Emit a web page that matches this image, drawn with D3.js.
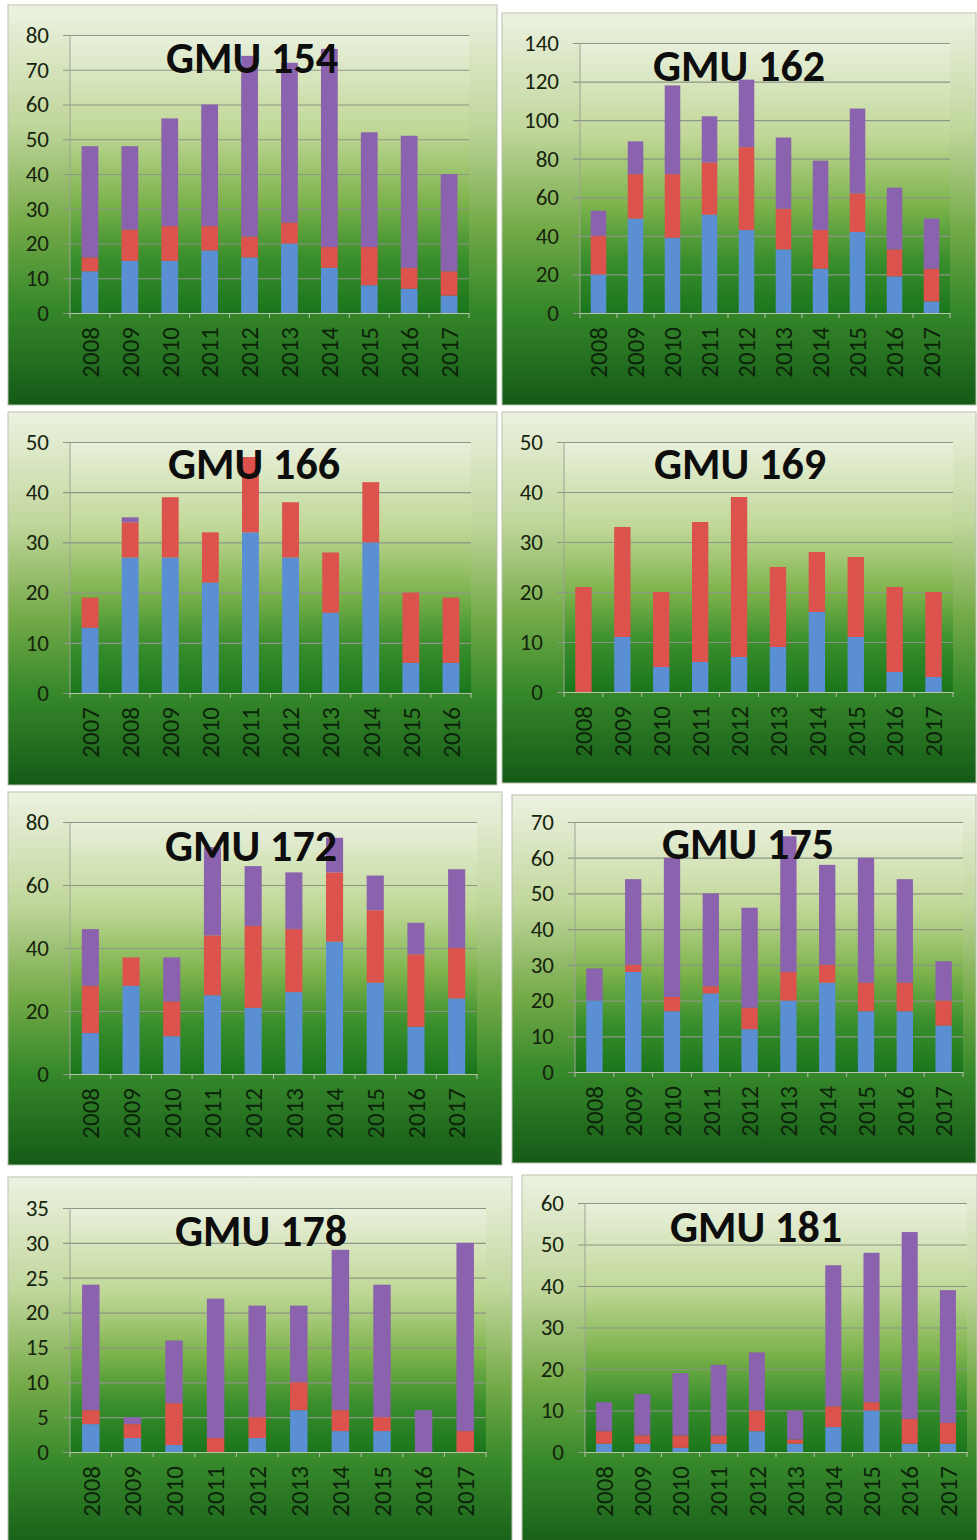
<!DOCTYPE html>
<html>
<head>
<meta charset="utf-8">
<script src="https://cdn.jsdelivr.net/npm/d3@7"></script>
<style>
  body { margin: 0; background: #fff; }
  svg { display: block; }
  .ytick text { font-family: Carlito, Lato, "Open Sans", sans-serif; font-size: 23px; fill: #16240e; }
  .xlab { font-family: Carlito, Lato, "Open Sans", sans-serif; font-size: 25px; fill: #0c240a; }
  .title { font-family: Carlito, Lato, "Open Sans", sans-serif; font-size: 44px; font-weight: bold; fill: #0d0d0d; }
</style>
</head>
<body>
<svg id="chart"></svg>
<script>
// Years on the category axes
var years0817 = ["2008", "2009", "2010", "2011", "2012", "2013", "2014", "2015", "2016", "2017"];
var years0716 = ["2007", "2008", "2009", "2010", "2011", "2012", "2013", "2014", "2015", "2016"];

// GMU 154
var gmu154Blue = [12, 15, 15, 18, 16, 20, 13, 8, 7, 5];
var gmu154Red = [4, 9, 10, 7, 6, 6, 6, 11, 6, 7];
var gmu154Purple = [32, 24, 31, 35, 52, 46, 57, 33, 38, 28];

// GMU 162
var gmu162Blue = [20, 49, 39, 51, 43, 33, 23, 42, 19, 6];
var gmu162Red = [20, 23, 33, 27, 43, 21, 20, 20, 14, 17];
var gmu162Purple = [13, 17, 46, 24, 35, 37, 36, 44, 32, 26];

// GMU 166
var gmu166Blue = [13, 27, 27, 22, 32, 27, 16, 30, 6, 6];
var gmu166Red = [6, 7, 12, 10, 15, 11, 12, 12, 14, 13];
var gmu166Purple = [0, 1, 0, 0, 0, 0, 0, 0, 0, 0];

// GMU 169
var gmu169Blue = [0, 11, 5, 6, 7, 9, 16, 11, 4, 3];
var gmu169Red = [21, 22, 15, 28, 32, 16, 12, 16, 17, 17];
var gmu169Purple = [0, 0, 0, 0, 0, 0, 0, 0, 0, 0];

// GMU 172
var gmu172Blue = [13, 28, 12, 25, 21, 26, 42, 29, 15, 24];
var gmu172Red = [15, 9, 11, 19, 26, 20, 22, 23, 23, 16];
var gmu172Purple = [18, 0, 14, 28, 19, 18, 11, 11, 10, 25];

// GMU 175
var gmu175Blue = [20, 28, 17, 22, 12, 20, 25, 17, 17, 13];
var gmu175Red = [0, 2, 4, 2, 6, 8, 5, 8, 8, 7];
var gmu175Purple = [9, 24, 39, 26, 28, 38, 28, 35, 29, 11];

// GMU 178
var gmu178Blue = [4, 2, 1, 0, 2, 6, 3, 3, 0, 0];
var gmu178Red = [2, 2, 6, 2, 3, 4, 3, 2, 0, 3];
var gmu178Purple = [18, 1, 9, 20, 16, 11, 23, 19, 6, 27];

// GMU 181
var gmu181Blue = [2, 2, 1, 2, 5, 2, 6, 10, 2, 2];
var gmu181Red = [3, 2, 3, 2, 5, 1, 5, 2, 6, 5];
var gmu181Purple = [7, 10, 15, 17, 14, 7, 34, 36, 45, 32];

// Panel titles and y axis ranges
var titles = ["GMU 154", "GMU 162", "GMU 166", "GMU 169", "GMU 172", "GMU 175", "GMU 178", "GMU 181"];
var yMaxes = [80, 140, 50, 50, 80, 70, 35, 60];
var ySteps = [10, 20, 10, 10, 20, 10, 5, 10];

var panelsData = [
  { years: years0817, series: [gmu154Blue, gmu154Red, gmu154Purple] },
  { years: years0817, series: [gmu162Blue, gmu162Red, gmu162Purple] },
  { years: years0716, series: [gmu166Blue, gmu166Red, gmu166Purple] },
  { years: years0817, series: [gmu169Blue, gmu169Red, gmu169Purple] },
  { years: years0817, series: [gmu172Blue, gmu172Red, gmu172Purple] },
  { years: years0817, series: [gmu175Blue, gmu175Red, gmu175Purple] },
  { years: years0817, series: [gmu178Blue, gmu178Red, gmu178Purple] },
  { years: years0817, series: [gmu181Blue, gmu181Red, gmu181Purple] }
];

// Layout (page pixels): panel box, plot box, title anchor
var layout = [
  { box: [8, 5, 489, 400], plot: [70, 469, 35, 313], title: [252, 73] },
  { box: [502, 13, 474, 392], plot: [580, 950, 43, 313], title: [739, 81] },
  { box: [8, 412, 489, 373], plot: [70, 471, 442, 693], title: [254, 479] },
  { box: [502, 412, 474, 371], plot: [564, 953, 442, 692], title: [740, 479] },
  { box: [8, 792, 494, 373], plot: [70, 477, 822, 1074], title: [251, 861] },
  { box: [512, 795, 464, 368], plot: [575, 963, 822, 1072], title: [748, 859] },
  { box: [8, 1177, 504, 380], plot: [70, 486, 1208, 1452], title: [261, 1246] },
  { box: [522, 1175, 455, 380], plot: [585, 967, 1203, 1452], title: [756, 1242] }
];

var colors = ["#5a8fd4", "#dc524c", "#8b62ad"];
var width = 977, height = 1540;

var svg = d3.select("#chart").attr("width", width).attr("height", height);
var defs = svg.append("defs");

function addGradient(id, stops) {
  var g = defs.append("linearGradient").attr("id", id)
    .attr("x1", 0).attr("y1", 0).attr("x2", 0).attr("y2", 1);
  stops.forEach(function(s) {
    g.append("stop").attr("offset", s[0]).attr("stop-color", s[1]);
  });
}
addGradient("panelGrad", [[0, "#edf2e1"], [0.3, "#c0d69b"], [0.55, "#74aa48"], [0.75, "#37892b"], [1, "#145a17"]]);
addGradient("plotGrad", [[0, "#e9f0dc"], [0.35, "#bfd795"], [0.6, "#7db34c"], [0.8, "#3a8f2d"], [1, "#1a761b"]]);

panelsData.forEach(function(pd, i) {
  var L = layout[i];
  var b = L.box, p = L.plot;
  var g = svg.append("g");

  g.append("rect")
    .attr("x", b[0]).attr("y", b[1]).attr("width", b[2]).attr("height", b[3])
    .attr("fill", "url(#panelGrad)")
    .attr("stroke", "#b9c3b0").attr("stroke-width", 1);

  g.append("rect")
    .attr("x", p[0]).attr("y", p[2]).attr("width", p[1] - p[0]).attr("height", p[3] - p[2])
    .attr("fill", "url(#plotGrad)");

  var xScale = d3.scaleBand().domain(pd.years).range([p[0], p[1]])
    .paddingInner(0.58).paddingOuter(0.29);
  var yScale = d3.scaleLinear().domain([0, yMaxes[i]]).range([p[3], p[2]]);
  var ticks = d3.range(0, yMaxes[i] + ySteps[i] / 2, ySteps[i]);

  // Gridlines
  g.append("g")
    .attr("transform", "translate(" + (p[0] - 7) + ",0)")
    .call(d3.axisLeft(yScale).tickValues(ticks).tickSize(-(p[1] - p[0] + 7)).tickFormat(""))
    .call(function(a) {
      a.select(".domain").remove();
      a.selectAll("line").attr("stroke", "#8c9686").attr("stroke-width", 1.2);
    });

  // Tick labels
  g.append("g").attr("class", "ytick")
    .attr("transform", "translate(" + p[0] + ",0)")
    .call(d3.axisLeft(yScale).tickValues(ticks).tickSize(0).tickPadding(21))
    .call(function(a) { a.select(".domain").remove(); });

  // Vertical axis line
  g.append("line")
    .attr("x1", p[0]).attr("x2", p[0]).attr("y1", p[2]).attr("y2", p[3])
    .attr("stroke", "#9aa492").attr("stroke-width", 1);

  // Stacked bars
  var rows = pd.years.map(function(y, k) {
    return { year: y, s0: pd.series[0][k], s1: pd.series[1][k], s2: pd.series[2][k] };
  });
  var stack = d3.stack().keys(["s0", "s1", "s2"])(rows);
  g.selectAll(".layer").data(stack).enter().append("g")
    .attr("fill", function(d, k) { return colors[k]; })
    .selectAll("rect").data(function(d) { return d; }).enter().append("rect")
    .attr("x", function(d) { return xScale(d.data.year); })
    .attr("width", xScale.bandwidth())
    .attr("y", function(d) { return yScale(d[1]); })
    .attr("height", function(d) { return yScale(d[0]) - yScale(d[1]); });

  // Category axis
  var xAxis = g.append("g")
    .attr("transform", "translate(0," + p[3] + ")")
    .call(d3.axisBottom(xScale).tickSize(0).tickFormat(""));
  xAxis.select(".domain").attr("stroke", "#b7c2ad").attr("stroke-width", 1.2);
  var step = xScale.step();
  g.selectAll(".xtickmark").data(d3.range(pd.years.length + 1)).enter().append("line")
    .attr("x1", function(k) { return p[0] + k * step; })
    .attr("x2", function(k) { return p[0] + k * step; })
    .attr("y1", p[3]).attr("y2", p[3] + 5)
    .attr("stroke", "#b7c2ad");

  g.selectAll(".xlab").data(pd.years).enter().append("text")
    .attr("class", "xlab")
    .attr("transform", function(d) {
      return "translate(" + (xScale(d) + xScale.bandwidth() / 2) + "," + (p[3] + 14) + ") rotate(-90)";
    })
    .attr("dy", "0.35em")
    .style("text-anchor", "end")
    .text(function(d) { return d; });

  g.append("text").attr("class", "title")
    .attr("x", L.title[0]).attr("y", L.title[1])
    .style("text-anchor", "middle")
    .text(titles[i]);
});
</script>
</body>
</html>
